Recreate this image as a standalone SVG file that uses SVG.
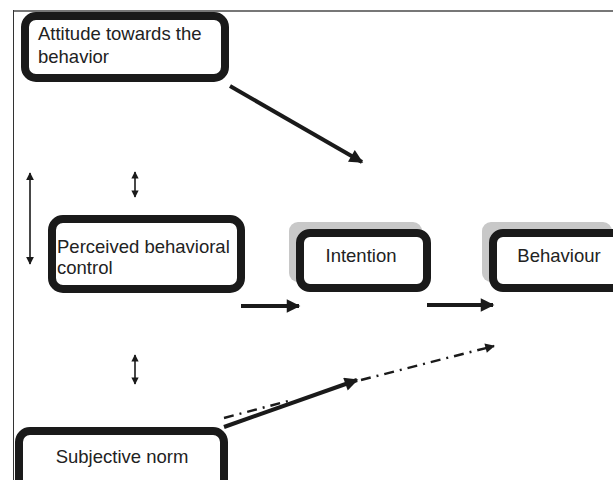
<svg xmlns="http://www.w3.org/2000/svg" width="613" height="480" viewBox="0 0 613 480">
<defs>
<marker id="ah" viewBox="0 0 10 10" refX="9" refY="5" markerWidth="4" markerHeight="3.4" markerUnits="strokeWidth" orient="auto">
<path d="M0,0 L10,5 L0,10 z" fill="#1a1a1a"/>
</marker>
<marker id="ahs" viewBox="0 0 10 10" refX="9" refY="5" markerWidth="5" markerHeight="5" markerUnits="strokeWidth" orient="auto-start-reverse">
<path d="M0,0 L10,5 L0,10 z" fill="#1a1a1a"/>
</marker>
<marker id="ahsm" viewBox="0 0 10 10" refX="9" refY="5" markerWidth="5" markerHeight="4.5" markerUnits="strokeWidth" orient="auto-start-reverse">
<path d="M0,0 L10,5 L0,10 z" fill="#1a1a1a"/>
</marker>
<marker id="ahd" viewBox="0 0 10 10" refX="9" refY="5" markerWidth="4.5" markerHeight="4" markerUnits="strokeWidth" orient="auto">
<path d="M0,0 L10,5 L0,10 z" fill="#1a1a1a"/>
</marker>
</defs>
<style>
.box{fill:#fff;stroke:#1a1a1a;stroke-width:8}
.shadow{fill:#c8c8c8}
.t{font-family:"Liberation Sans",Arial,sans-serif;font-size:18.5px;fill:#222}
.c{stroke:#1a1a1a;stroke-width:4;fill:none}
.thin{stroke:#1a1a1a;stroke-width:1.6;fill:none}
.dd{stroke:#1a1a1a;stroke-width:2.4;fill:none;stroke-dasharray:10 6 2 6}
</style>
<rect width="613" height="480" fill="#fff"/>
<g id="frame">
<line x1="13" y1="11" x2="613" y2="11" stroke="#777" stroke-width="2"/>
<line x1="13.5" y1="10" x2="13.5" y2="480" stroke="#333" stroke-width="1"/>
</g>
<g id="attitude">
<rect class="box" x="25" y="16" width="200" height="62" rx="11"/>
<text class="t" x="38" y="40">Attitude towards the</text>
<text class="t" x="38" y="63">behavior</text>
</g>
<g id="pbc">
<rect class="box" x="52" y="219" width="189" height="70" rx="11"/>
<text class="t" x="57" y="253">Perceived behavioral</text>
<text class="t" x="57" y="274">control</text>
</g>
<g id="intention">
<rect class="shadow" x="289" y="222" width="133" height="60" rx="9"/>
<rect class="box" x="300" y="233" width="127" height="55" rx="10"/>
<text class="t" x="361" y="262" text-anchor="middle">Intention</text>
</g>
<g id="behaviour">
<rect class="shadow" x="482" y="222" width="130" height="60" rx="9"/>
<rect class="box" x="493" y="233" width="130" height="55" rx="10"/>
<text class="t" x="559" y="262" text-anchor="middle">Behaviour</text>
</g>
<g id="subjective">
<rect class="box" x="19" y="431" width="205" height="60" rx="11"/>
<text class="t" x="122" y="463" text-anchor="middle">Subjective norm</text>
</g>
<g id="connectors">
<line class="c" x1="230" y1="86" x2="362" y2="162" marker-end="url(#ah)"/>
<line class="thin" x1="30" y1="173" x2="30" y2="264" marker-start="url(#ahs)" marker-end="url(#ahs)"/>
<line class="thin" x1="135" y1="172" x2="135" y2="197" marker-start="url(#ahsm)" marker-end="url(#ahsm)"/>
<line class="thin" x1="135" y1="355" x2="135" y2="384" marker-start="url(#ahsm)" marker-end="url(#ahsm)"/>
<line class="c" x1="241" y1="306" x2="299" y2="306" marker-end="url(#ah)"/>
<line class="c" x1="427" y1="305" x2="493" y2="305" marker-end="url(#ah)"/>
<line class="dd" x1="224" y1="418" x2="292" y2="400"/>
<line class="c" x1="224" y1="427" x2="357" y2="380" marker-end="url(#ah)"/>
<line class="dd" x1="361" y1="380" x2="494" y2="346" marker-end="url(#ahd)"/>
</g>
</svg>
